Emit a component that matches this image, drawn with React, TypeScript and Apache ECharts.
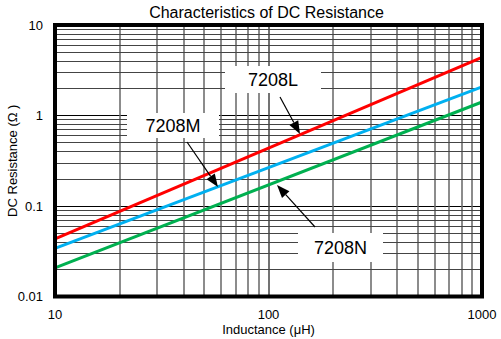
import React, { useEffect, useRef } from "react";
import * as echarts from "echarts";

const inductance = [10, 1000];
const res7208L = [0.0433, 4.39];
const res7208M = [0.0341, 2.07];
const res7208N = [0.0207, 1.41];
const seriesNames = ["7208L", "7208M", "7208N"];
const seriesColors = ["#ff0000", "#00b0f0", "#00b050"];
const xMinor = [20, 30, 40, 50, 60, 70, 80, 90, 200, 300, 400, 500, 600, 700, 800, 900];
const yMinor = [
  0.02, 0.03, 0.04, 0.05, 0.06, 0.07, 0.08, 0.09,
  0.2, 0.3, 0.4, 0.5, 0.6, 0.7, 0.8, 0.9,
  2, 3, 4, 5, 6, 7, 8, 9,
];
const titleText = "Characteristics of DC Resistance";
const xName = "Inductance (μH)";
const yName = "DC Resistance (Ω )";

const FONT = "'Liberation Sans', Arial, sans-serif";

function arrow(x1: number, y1: number, x2: number, y2: number) {
  const dx = x2 - x1;
  const dy = y2 - y1;
  const len = Math.sqrt(dx * dx + dy * dy);
  const ux = dx / len;
  const uy = dy / len;
  const hl = 13;
  const hw = 5;
  const bx = x2 - ux * hl;
  const by = y2 - uy * hl;
  const px = -uy;
  const py = ux;
  return [
    {
      type: "line",
      z: 110,
      shape: { x1, y1, x2: bx, y2: by },
      style: { stroke: "#000", lineWidth: 1.2 },
    },
    {
      type: "polygon",
      z: 110,
      shape: {
        points: [
          [x2, y2],
          [bx + px * hw, by + py * hw],
          [bx - px * hw, by - py * hw],
        ],
      },
      style: { fill: "#000" },
    },
  ];
}

function labelBox(text: string, x: number, y: number, w: number, h: number) {
  return [
    {
      type: "rect",
      z: 100,
      shape: { x, y, width: w, height: h },
      style: { fill: "#fff" },
    },
    {
      type: "text",
      z: 101,
      x: x + w / 2,
      y: y + h / 2,
      style: {
        text,
        fill: "#000",
        font: `18px ${FONT}`,
        align: "center",
        verticalAlign: "middle",
      },
    },
  ];
}

export default function App() {
  const ref = useRef<HTMLDivElement>(null);
  useEffect(() => {
    if (!ref.current) return;
    const chart = echarts.init(ref.current, undefined, { renderer: "svg" });
    const datasets = [res7208L, res7208M, res7208N];
    const lineSeries = datasets.map((vals, i) => ({
      name: seriesNames[i],
      type: "line",
      z: 5,
      symbol: "none",
      data: inductance.map((x, j) => [x, vals[j]]),
      lineStyle: { color: seriesColors[i], width: 3 },
      itemStyle: { color: seriesColors[i] },
    }));
    const gridSeries = {
      type: "line",
      z: 1,
      symbol: "none",
      silent: true,
      data: [[10, 0.01]],
      lineStyle: { opacity: 0 },
      markLine: {
        silent: true,
        symbol: ["none", "none"],
        label: { show: false },
        animation: false,
        data: [
          ...xMinor.map((v) => ({
            xAxis: v,
            lineStyle: { color: "#666", width: 1.5, type: "solid" },
          })),
          ...yMinor.map((v) => ({
            yAxis: v,
            lineStyle: { color: "#444", width: 1, type: "solid" },
          })),
        ],
      },
    };
    chart.setOption({
      animation: false,
      textStyle: { fontFamily: FONT },
      grid: {
        left: 55,
        right: 19,
        top: 25,
        bottom: 42.5,
        show: true,
        borderColor: "#000",
        borderWidth: 4,
        containLabel: false,
        outerBoundsMode: "none",
        z: 50,
      },
      xAxis: {
        type: "log",
        logBase: 10,
        min: 10,
        max: 1000,
        name: xName,
        nameLocation: "middle",
        nameGap: 26,
        nameMoveOverlap: false,
        nameTextStyle: { color: "#000", fontSize: 13, fontFamily: FONT },
        axisLine: { show: false },
        axisTick: { show: false },
        axisLabel: {
          color: "#000",
          fontSize: 13,
          margin: 11,
          fontFamily: FONT,
          formatter: (v: number) => String(v),
        },
        splitLine: { show: true, lineStyle: { color: "#444", width: 1.5 } },
      },
      yAxis: {
        type: "log",
        logBase: 10,
        min: 0.01,
        max: 10,
        name: yName,
        nameLocation: "middle",
        nameGap: 36,
        nameMoveOverlap: false,
        nameTextStyle: { color: "#000", fontSize: 13, fontFamily: FONT },
        axisLine: { show: false },
        axisTick: { show: false },
        axisLabel: {
          color: "#000",
          fontSize: 13,
          margin: 12,
          fontFamily: FONT,
          formatter: (v: number) => String(v),
        },
        splitLine: { show: true, lineStyle: { color: "#000", width: 1 } },
      },
      series: [gridSeries, ...lineSeries],
      graphic: [
        {
          type: "text",
          x: 266.5,
          y: 12,
          style: {
            text: titleText,
            fill: "#000",
            font: `16px ${FONT}`,
            align: "center",
            verticalAlign: "middle",
          },
        },
        ...labelBox(seriesNames[0], 225, 66, 96, 27),
        ...labelBox(seriesNames[1], 127, 113, 92, 25),
        ...labelBox(seriesNames[2], 298, 233, 85, 29),
        ...arrow(280, 97, 300, 134),
        ...arrow(187, 142, 218, 187),
        ...arrow(315, 227, 277, 185),
      ],
    });
    return () => chart.dispose();
  }, []);
  return (
    <div
      ref={ref}
      style={{ position: "fixed", left: 0, top: 0, width: 501, height: 339, background: "#fff" }}
    />
  );
}
